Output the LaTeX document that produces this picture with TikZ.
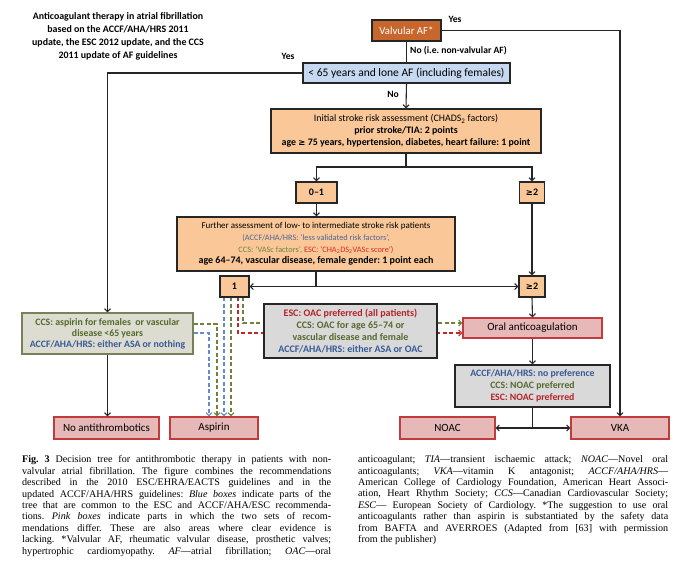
\documentclass[tikz,border=0pt]{standalone}
\usepackage{fontspec}
\setmainfont{Carlito}
\newfontfamily\capfont{Liberation Serif}
\newfontfamily\symfont{DejaVu Sans}
\usetikzlibrary{arrows.meta,calc}
\definecolor{valvfill}{RGB}{200,103,45}
\definecolor{orfill}{RGB}{250,200,152}
\definecolor{bluefill}{RGB}{198,217,241}
\definecolor{grayfill}{RGB}{217,217,217}
\definecolor{ccsfill}{RGB}{220,220,208}
\definecolor{ccsborder}{RGB}{120,130,90}
\definecolor{pinkfill}{RGB}{230,185,184}
\definecolor{pinkborder}{RGB}{192,60,60}
\definecolor{txtblue}{RGB}{55,90,150}
\definecolor{txtgreen}{RGB}{85,105,45}
\definecolor{txtred}{RGB}{180,35,40}
\definecolor{ftblue}{RGB}{80,100,150}
\definecolor{ftgreen}{RGB}{110,130,60}
\definecolor{ftred}{RGB}{220,40,40}
\definecolor{dblue}{RGB}{100,140,200}
\definecolor{dgreen}{RGB}{110,130,60}
\definecolor{dred}{RGB}{190,40,45}
\pgfdeclarelayer{back}
\pgfdeclarelayer{bg}
\pgfsetlayers{back,bg,main}
\frenchspacing
\begin{document}
\begin{tikzpicture}[x=1pt,y=-1pt,
  box/.style={draw=black!85, line width=1.1pt, inner sep=0pt, align=center},
  orbox/.style={box, fill=orfill},
  pinkbox/.style={box, draw=pinkborder, fill=pinkfill, font=\fontsize{11}{13}\selectfont},
  graybox/.style={box, fill=grayfill, font=\bfseries\fontsize{10}{12}\selectfont},
  smallbox/.style={orbox, font=\bfseries\fontsize{10}{12}\selectfont},
  conn/.style={line width=1.1pt, draw=black!85, -{Straight Barb[length=3pt,width=6pt]}},
  plain/.style={line width=1.1pt, draw=black!85},
  dconn/.style={line width=1.1pt, dash pattern=on 4pt off 2.5pt, -{Straight Barb[length=3pt,width=6pt]}},
  lbl/.style={font=\bfseries\fontsize{9.6}{11}\selectfont, inner sep=1pt}
]
\begin{pgfonlayer}{back}
\fill[white] (0,0) rectangle (694,584);
\end{pgfonlayer}
\useasboundingbox (0,0) rectangle (694,584);

% title
\node[align=center, font=\bfseries\fontsize{9.9}{13.1}\selectfont] (title) at (118,36.5)
 {Anticoagulant therapy in atrial fibrillation\\ based on the ACCF/AHA/HRS 2011\\ update, the ESC 2012 update, and the CCS\\ 2011 update of AF guidelines};

% nodes
\node[box, fill=valvfill, text=white, minimum width=69pt, minimum height=21pt, font=\fontsize{10.8}{12}\selectfont] (valv) at (406.5,30.5) {Valvular AF*};
\node[box, fill=bluefill, minimum width=207pt, minimum height=20pt, font=\fontsize{11.5}{13}\selectfont] (lt65) at (406.5,73) {< 65 years and lone AF (including females)};
\node[orbox, minimum width=270pt, minimum height=44pt, font=\fontsize{9.9}{12}\selectfont] (init) at (406,131)
 {Initial stroke risk assessment (CHADS\textsubscript{2} factors)\\ \textbf{prior stroke/TIA: 2 points}\\ \textbf{age {\symfont\fontsize{8.5}{9}\selectfont ≥} 75 years, hypertension, diabetes, heart failure: 1 point}};
\node[smallbox, minimum width=41pt, minimum height=21pt] (b01) at (316.5,192.5) {0--1};
\node[smallbox, minimum width=25pt, minimum height=21pt] (ge2a) at (532,192.5) {{\symfont\fontsize{8.5}{9}\selectfont ≥}2};
\node[orbox, minimum width=278pt, minimum height=54pt, font=\fontsize{9}{11.7}\selectfont] (further) at (316,244)
 {Further assessment of low- to intermediate stroke risk patients\\
  {\fontsize{8.3}{11.7}\selectfont\color{ftblue}(ACCF/AHA/HRS: ‘less validated risk factors’,}\\
  {\fontsize{8.3}{11.7}\selectfont{\color{ftgreen}CCS: ‘VASc factors’,} {\color{ftred}ESC: ‘CHA\textsubscript{2}DS\textsubscript{2}VASc score’)}}\\
  {\fontsize{10}{11.7}\selectfont\textbf{age 64–74, vascular disease, female gender: 1 point each}}};
\node[smallbox, minimum width=29pt, minimum height=21pt] (b1) at (234.5,286.5) {1};
\node[smallbox, minimum width=26pt, minimum height=21pt] (ge2b) at (532,286.5) {{\symfont\fontsize{8.5}{9}\selectfont ≥}2};
\node[graybox, minimum width=173pt, minimum height=54pt] (esc) at (350.5,331)
 {{\color{txtred}ESC: OAC preferred (all patients)}\\ {\color{txtgreen}CCS: OAC for age 65–74 or}\\ {\color{txtgreen}vascular disease and female}\\ {\color{txtblue}ACCF/AHA/HRS: either ASA or OAC}};
\node[box, draw=ccsborder, fill=ccsfill, minimum width=171pt, minimum height=41pt, font=\bfseries\fontsize{9.8}{11}\selectfont] (ccs) at (107.5,333.5)
 {{\color{txtgreen}CCS: aspirin for females\ \ or vascular}\\ {\color{txtgreen}disease <65 years}\\ {\color{txtblue}ACCF/AHA/HRS: either ASA or nothing}};
\node[pinkbox, minimum width=139pt, minimum height=20pt] (oral) at (532.5,328) {Oral anticoagulation};
\node[graybox, minimum width=155pt, minimum height=42pt, font=\bfseries\fontsize{9.8}{12}\selectfont] (accf) at (532.5,386)
 {{\color{txtblue}ACCF/AHA/HRS: no preference}\\ {\color{txtgreen}CCS: NOAC preferred}\\ {\color{txtred}ESC: NOAC preferred}};
\node[pinkbox, minimum width=105pt, minimum height=22pt] (noanti) at (106.5,428) {No antithrombotics};
\node[pinkbox, minimum width=88pt, minimum height=22pt] (asp) at (214,428) {Aspirin};
\node[pinkbox, minimum width=95pt, minimum height=22pt] (noac) at (447.5,428) {NOAC};
\node[pinkbox, minimum width=98pt, minimum height=22pt] (vka) at (620,428) {VKA};

% solid connectors
\draw[plain] (valv.south) -- (lt65.north);
\node[lbl, anchor=west] (lno1) at (409,51) {No (i.e. non-valvular AF)};
\draw[conn] (valv.east) -| (vka.north);
\node[lbl] (lyes1) at (455,19) {Yes};
\draw[conn] (lt65.west) -| (ccs.north);
\node[lbl] (lyes2) at (288,56) {Yes};
\draw[conn] (lt65.south) -- (init.north);
\node[lbl] (lno2) at (393,94) {No};
\coordinate (split1) at (406,167);
\draw[plain] (init.south) -- (split1);
\draw[conn] (split1) -| (b01.north);
\draw[conn] (split1) -| (ge2a.north);
\draw[conn] (b01.south) -- (b01.south |- further.north);
\draw[conn] (ge2a.south) -- (ge2b.north);
\coordinate (split2) at (316,286.5);
\draw[plain] (further.south) -- (split2);
\draw[conn] (split2) -- (b1.east);
\draw[conn] (split2) -- (ge2b.west);
\draw[conn] (ge2b.south) -- (oral.north);
\draw[conn] (oral.south) -- (accf.north);
\coordinate (split3) at (532.5,428);
\draw[plain] (accf.south) -- (split3);
\draw[conn] (split3) -- (noac.east);
\draw[conn] (split3) -- (vka.west);
\draw[conn] (ccs.south) -- (ccs.south |- noanti.north);

% dashed connectors
\coordinate (c1) at (209,333);
\coordinate (c2) at (217,324);
\coordinate (d1) at (224,297);
\coordinate (d2) at (231,297);
\coordinate (d3) at (238,297);
\coordinate (d4) at (243,297);
\coordinate (e3) at (238,333);
\coordinate (e4) at (243,323);
\begin{pgfonlayer}{bg}
\draw[dconn, dblue] (ccs.east |- c1) -- (c1) -- (c1 |- asp.north);
\draw[dconn, dgreen] (ccs.east |- c2) -- (c2) -- (c2 |- asp.north);
\draw[dconn, dblue] (d1) -- (d1 |- asp.north);
\draw[dconn, dgreen] (d2) -- (d2 |- asp.north);
\draw[dconn, dred] (d3) -- (e3) -- (oral.west |- e3);
\draw[dconn, dgreen] (d4) -- (e4) -- (oral.west |- e4);
\end{pgfonlayer}

% caption
\node[anchor=north west, inner sep=0pt, text width=309pt, align=justify, font=\capfont\fontsize{10.1}{11.4}\selectfont] (capL) at (22,455.5)
 {\parfillskip=0pt \textbf{Fig. 3} Decision tree for antithrombotic therapy in patients with non-\linebreak
 valvular atrial fibrillation. The figure combines the recommendations\linebreak
 described in the 2010 ESC/EHRA/EACTS guidelines and in the\linebreak
 updated ACCF/AHA/HRS guidelines: \textit{Blue boxes} indicate parts of the\linebreak
 tree that are common to the ESC and ACCF/AHA/ESC recommenda-\linebreak
 tions. \textit{Pink boxes} indicate parts in which the two sets of recom-\linebreak
 mendations differ. These are also areas where clear evidence is\linebreak
 lacking. *Valvular AF, rheumatic valvular disease, prosthetic valves;\linebreak
 hypertrophic cardiomyopathy. \textit{AF}—atrial fibrillation; \textit{OAC}—oral\par};
\node[anchor=north west, inner sep=0pt, text width=310pt, align=justify, font=\capfont\fontsize{10.1}{11.4}\selectfont] (capR) at (358,455.5)
 {anticoagulant; \textit{TIA}—transient ischaemic attack; \textit{NOAC}—Novel oral\linebreak
 anticoagulants; \textit{VKA}—vitamin K antagonist; \textit{ACCF/AHA/HRS}—\linebreak
 American College of Cardiology Foundation, American Heart Associ-\linebreak
 ation, Heart Rhythm Society; \textit{CCS}—Canadian Cardiovascular Society;\linebreak
 \textit{ESC}— European Society of Cardiology. *The suggestion to use oral\linebreak
 anticoagulants rather than aspirin is substantiated by the safety data\linebreak
 from BAFTA and AVERROES (Adapted from [63] with permission\linebreak
 from the publisher)};
\end{tikzpicture}
\end{document}
